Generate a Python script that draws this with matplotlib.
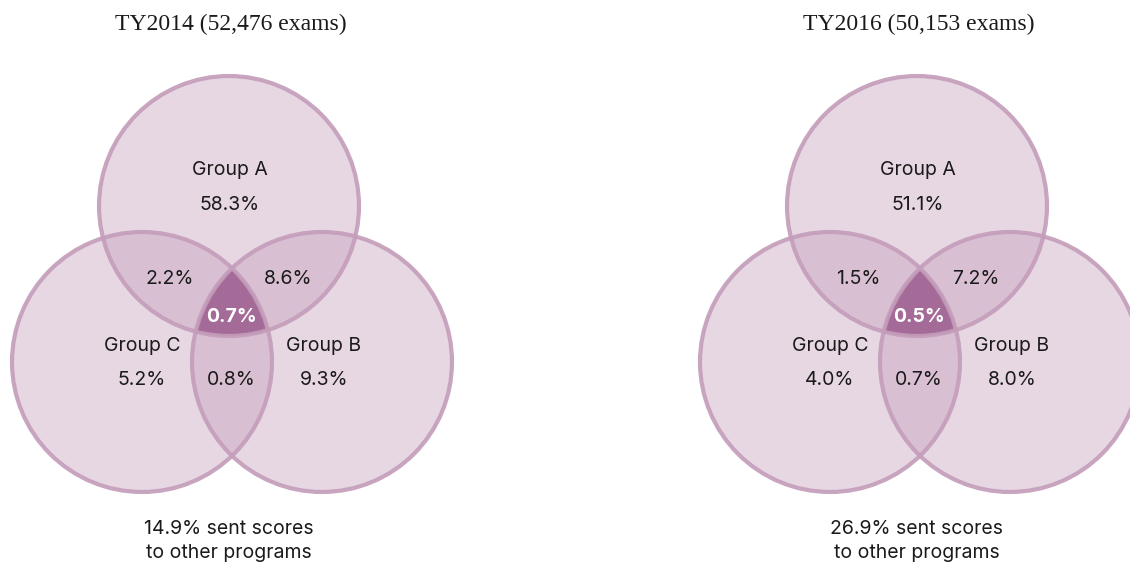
import numpy as np
import matplotlib
matplotlib.use("Agg")
import matplotlib.pyplot as plt
from matplotlib.patches import Circle, Polygon

# ---- data ----
titles = ["TY2014 (52,476 exams)", "TY2016 (50,153 exams)"]
group_labels = ["Group A", "Group B", "Group C"]
only_a = ["58.3%", "51.1%"]
only_b = ["9.3%", "8.0%"]
only_c = ["5.2%", "4.0%"]
ab = ["8.6%", "7.2%"]
ac = ["2.2%", "1.5%"]
bc = ["0.8%", "0.7%"]
abc = ["0.7%", "0.5%"]
other = ["14.9%", "26.9%"]

# ---- style ----
EDGE = "#c49dba"
FILL = "#c49dba"
DARK = "#a56b98"
SANS = ["Inter", "DejaVu Sans"]
SERIF = ["Liberation Serif", "DejaVu Serif"]

W, H = 1130, 563
fig = plt.figure(figsize=(W / 100, H / 100), dpi=100)
ax = fig.add_axes([0, 0, 1, 1])
ax.set_xlim(0, W)
ax.set_ylim(H, 0)
ax.set_aspect("equal")
ax.axis("off")

R = 130
offsets = [0, 688]
base = {"A": (229, 206), "B": (322, 362), "C": (142, 362)}


def inside(p, c, r):
    return (p[0] - c[0]) ** 2 + (p[1] - c[1]) ** 2 <= r ** 2 + 1e-6


for i, dx in enumerate(offsets):
    cs = {k: (v[0] + dx, v[1]) for k, v in base.items()}
    for k in ["A", "C", "B"]:
        ax.add_patch(Circle(cs[k], R, facecolor=FILL, alpha=0.4, edgecolor="none", zorder=1))
    pts = []
    t = np.linspace(0, 2 * np.pi, 3000, endpoint=False)
    keys = list(cs.keys())
    for k in keys:
        cx, cy = cs[k]
        for ang in t:
            p = (cx + R * np.cos(ang), cy + R * np.sin(ang))
            if all(inside(p, cs[o], R) for o in keys if o != k):
                pts.append(p)
    pts = np.array(pts)
    ctr = pts.mean(axis=0)
    order = np.argsort(np.arctan2(pts[:, 1] - ctr[1], pts[:, 0] - ctr[0]))
    ax.add_patch(Polygon(pts[order], closed=True, facecolor=DARK, edgecolor="none", zorder=2))
    for k in ["A", "C", "B"]:
        ax.add_patch(Circle(cs[k], R, facecolor="none", edgecolor=EDGE, lw=3.0, alpha=0.9, zorder=3))

    ax_ = cs["A"][0]
    fs = 14
    kw = dict(ha="center", va="center", fontsize=fs, family=SANS, color="#1a1a1a", zorder=5)
    ax.text(ax_ + 2, 24, titles[i], ha="center", va="center", fontsize=17, family=SERIF, color="#1a1a1a")
    ax.text(ax_ + 1, 170, group_labels[0], **kw)
    ax.text(ax_ + 1, 205, only_a[i], **kw)
    ax.text(ax_ - 59, 279, ac[i], **kw)
    ax.text(ax_ + 59, 279, ab[i], **kw)
    ax.text(ax_ + 2, 317, abc[i], ha="center", va="center", fontsize=fs, family=SANS,
            color="white", fontweight="bold", zorder=5)
    ax.text(cs["C"][0], 346, group_labels[2], **kw)
    ax.text(cs["C"][0], 380, only_c[i], **kw)
    ax.text(ax_ + 2, 380, bc[i], **kw)
    ax.text(cs["B"][0] + 2, 346, group_labels[1], **kw)
    ax.text(cs["B"][0] + 2, 380, only_b[i], **kw)
    ax.text(ax_, 529, f"{other[i]} sent scores", **kw)
    ax.text(ax_, 553, "to other programs", **kw)

fig.savefig("out.png", dpi=100)
